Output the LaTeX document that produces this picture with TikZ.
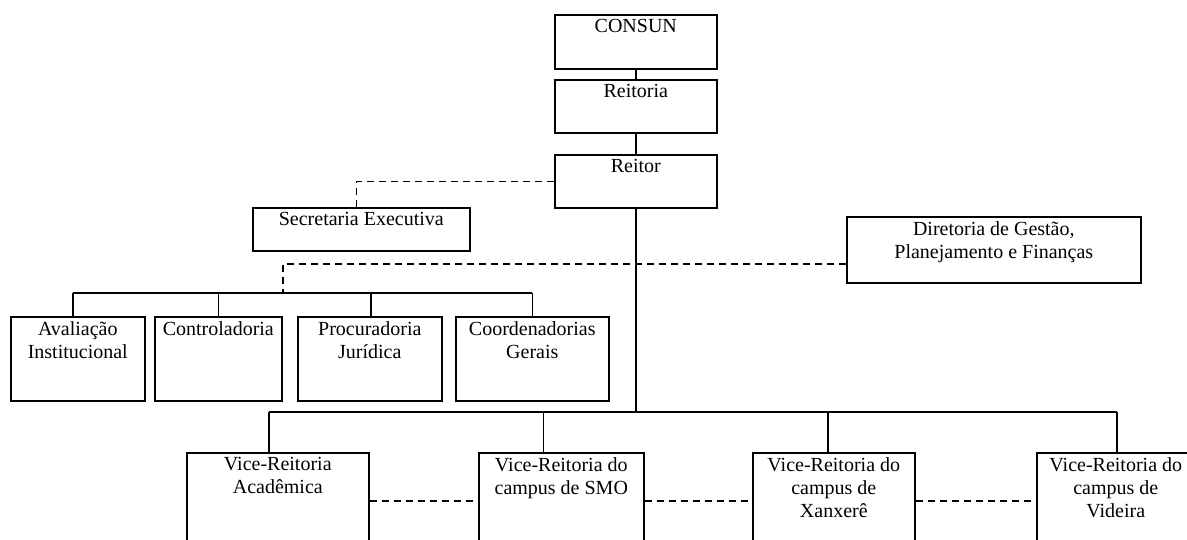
\documentclass[tikz,border=0pt]{standalone}
\usepackage{fontspec}
\setmainfont{Liberation Serif}

\begin{document}
\begin{tikzpicture}[x=1pt,y=-1pt,
        unit/.style={draw, line width=1.6pt, anchor=north west, inner sep=0pt},
        txt/.style={align=center, anchor=north, inner sep=0pt, yshift=-5pt,
                    font=\fontsize{20}{23}\selectfont},
        link/.style={line width=1.6pt},
        dotlink/.style={line width=1.5pt, dash pattern=on 7pt off 5pt}
        ]
        \useasboundingbox (0,0) rectangle (1187,540);
        \clip (0,0) rectangle (1187,540);

        % top chain
        \node[unit, minimum width=162, minimum height=54, label={[txt]north:CONSUN}] (consun) at (554,14) {};
        \node[unit, minimum width=162, minimum height=53, label={[txt]north:Reitoria}] (reitoria) at (554,79) {};
        \node[unit, minimum width=162, minimum height=53, label={[txt]north:Reitor}] (reitor) at (554,154) {};
        \draw[link] (consun) -- (reitoria);
        \draw[link] (reitoria) -- (reitor);

        \node[unit, minimum width=217, minimum height=43, label={[txt]north:Secretaria Executiva}] (secex) at (252,207) {};
        \node[unit, minimum width=294, minimum height=66,
              label={[txt]north:{Diretoria de Gestão,\\Planejamento e Finanças}}] (dirgp) at (846,216) {};
        \draw[dotlink] (reitor.west) -| ([xshift=-5pt]secex.north);

        % assessorias
        \coordinate (midbus) at (0,293);
        \coordinate (drop) at (283,293);
        \foreach \n/\x/\w/\d/\t in {aval/10/134/-5/{Avaliação\\Institucional},
                                    contr/154/127/0/{Controladoria},
                                    procur/297/144/1/{Procuradoria\\Jurídica},
                                    coord/455/153/0/{Coordenadorias\\Gerais}} {
          \node[unit, minimum width=\w, minimum height=84, label={[txt]north:\t}] (\n) at (\x,316) {};
          \draw[link] ([xshift=\d pt]\n.north) -- ([xshift=\d pt]\n.north |- midbus);
        }
        \draw[link] ([xshift=-5pt]aval.north |- midbus) -- (coord.north |- midbus);
        \draw[dotlink] ([yshift=-14pt]dirgp.west) -| (drop);

        % vice-reitorias
        \coordinate (bus) at (0,412);
        \foreach \n/\x/\w/\d/\t in {vacad/186/182/-9/{Vice-Reitoria\\Acadêmica},
                                    vsmo/478/165/-18/{Vice-Reitoria do\\campus de SMO},
                                    vxan/752/162/-6/{Vice-Reitoria do\\campus de\\Xanxerê},
                                    vvid/1036/158/1/{Vice-Reitoria do\\campus de\\Videira}} {
          \node[unit, minimum width=\w, minimum height=96, label={[txt]north:\t}] (\n) at (\x,452) {};
          \draw[link] ([xshift=\d pt]\n.north) -- ([xshift=\d pt]\n.north |- bus);
        }
        \draw[link] ([xshift=-9pt]vacad.north |- bus) -- ([xshift=1pt]vvid.north |- bus);
        \draw[link] (reitor) -- (reitor |- bus);
        \draw[dotlink] (vacad) -- (vsmo);
        \draw[dotlink] (vsmo) -- (vxan);
        \draw[dotlink] (vxan) -- (vvid);
      \end{tikzpicture}
\end{document}
